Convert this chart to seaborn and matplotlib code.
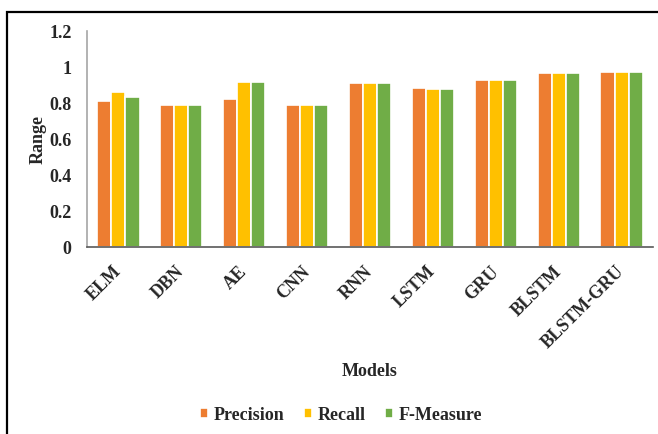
import matplotlib
matplotlib.use("Agg")
import matplotlib.pyplot as plt
from matplotlib.patches import Rectangle
import seaborn as sns
import pandas as pd

models = ["ELM", "DBN", "AE", "CNN", "RNN", "LSTM", "GRU", "BLSTM", "BLSTM-GRU"]
precision = [0.81, 0.79, 0.82, 0.79, 0.91, 0.885, 0.93, 0.965, 0.975]
recall = [0.86, 0.79, 0.915, 0.79, 0.91, 0.88, 0.93, 0.965, 0.975]
f_measure = [0.835, 0.79, 0.915, 0.79, 0.91, 0.88, 0.93, 0.965, 0.975]
metrics = ["Precision", "Recall", "F-Measure"]
colors = ["#ED7D31", "#FFC000", "#70AD47"]
y_ticks = [0, 0.2, 0.4, 0.6, 0.8, 1.0, 1.2]
y_tick_labels = ["0", "0.2", "0.4", "0.6", "0.8", "1", "1.2"]

df = pd.DataFrame({
    "Models": models * 3,
    "Range": precision + recall + f_measure,
    "Metric": [m for m in metrics for _ in models],
})

sns.set_style("white")
plt.rcParams["font.family"] = ["Liberation Serif", "DejaVu Serif"]
plt.rcParams["font.weight"] = "bold"
FS = 13

fig = plt.figure(figsize=(6.58, 4.34), dpi=100)
ax = fig.add_axes([87 / 658, 1 - 247 / 434, (653 - 87) / 658, (247 - 31) / 434])

sns.barplot(data=df, x="Models", y="Range", hue="Metric", order=models,
            hue_order=metrics, palette=colors, width=0.67, ax=ax,
            edgecolor="white", linewidth=1.2, saturation=1, legend=True)

ax.set_ylim(0, 1.2)
ax.set_xlim(-0.5, len(models) - 0.5)
ax.set_yticks(y_ticks)
ax.set_yticklabels(y_tick_labels, fontsize=FS, fontweight="bold")
ax.tick_params(axis="both", length=0)
ax.tick_params(axis="y", pad=11)
ax.tick_params(axis="x", pad=16)
for lbl in ax.get_xticklabels():
    lbl.set_rotation(45)
    lbl.set_rotation_mode("anchor")
    lbl.set_ha("right")
    lbl.set_va("center")
    lbl.set_fontsize(FS)
    lbl.set_fontweight("bold")

for side in ("top", "right"):
    ax.spines[side].set_visible(False)
ax.spines["left"].set_color("#A6A6A6")
ax.spines["left"].set_linewidth(1.2)
ax.spines["bottom"].set_color("#595959")
ax.spines["bottom"].set_linewidth(1.2)

ax.set_xlabel("Models", fontsize=FS, fontweight="bold", labelpad=0)
ax.xaxis.set_label_coords(0.5, -(363 - 247) / 216)
ax.set_ylabel("Range", fontsize=FS, fontweight="bold")
ax.yaxis.set_label_coords(-(87 - 47) / 566, 0.5)

handles, labels = ax.get_legend_handles_labels()
ax.get_legend().remove()
fig.legend(handles, labels, loc="center", bbox_to_anchor=(341 / 658, 1 - 415 / 434),
           ncol=3, frameon=False, handlelength=0.45, handleheight=0.45,
           handletextpad=0.28, columnspacing=1.1,
           prop={"weight": "bold", "size": FS})

# outer frame around the figure
fig.patches.append(Rectangle((7 / 658, -0.1), 1.2, 1 - 12 / 434 + 0.1,
                             transform=fig.transFigure, fill=False,
                             edgecolor="black", linewidth=1.6))

fig.savefig("out.png", dpi=100)
